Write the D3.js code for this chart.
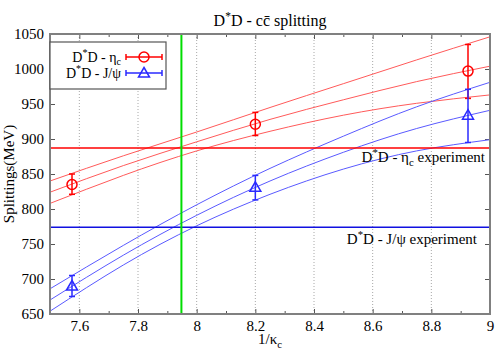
<!DOCTYPE html>
<html>
<head>
<meta charset="utf-8">
<script src="https://cdn.jsdelivr.net/npm/d3@7"></script>
<style>
  body { margin: 0; background: #fff; }
</style>
</head>
<body>
<div id="chart"></div>
<script>
// measured points (1/kappa_c, splitting in MeV)
const kappaInv = [7.575, 8.2, 8.925];
const etaC = [835, 921, 997];
const etaCLo = [821, 905, 958];
const etaCHi = [850, 938, 1035];
const jpsi = [690, 831, 934];
const jpsiLo = [675, 813, 895];
const jpsiHi = [705, 848, 971];

// fit bands
const bandX = [7.5, 7.75, 8.0, 8.25, 8.5, 8.75, 9.0];
const etaBandHi = [840, 876, 910, 945, 979, 1013, 1046];
const etaBandMid = [824, 862, 896, 928, 956, 982, 1004];
const etaBandLo = [808, 848, 883, 911, 934, 951, 963];
const jpsiBandHi = [686, 748, 806, 858, 904, 946, 981];
const jpsiBandMid = [670, 734, 791, 840, 881, 915, 941];
const jpsiBandLo = [654, 720, 776, 821, 857, 883, 899];

// reference lines
const expEta = 887;
const expJpsi = 774;
const kappaPhys = 7.948;

// ticks
const xMajor = [7.6, 7.8, 8.0, 8.2, 8.4, 8.6, 8.8, 9.0];
const xTickLabels = ["7.6", "7.8", "8", "8.2", "8.4", "8.6", "8.8", "9"];
const xMinor = [7.5, 7.7, 7.9, 8.1, 8.3, 8.5, 8.7, 8.9];
const yMajor = [650, 700, 750, 800, 850, 900, 950, 1000, 1050];

const width = 500, height = 350;
const margin = { top: 34, right: 10, bottom: 36, left: 50 };
const serif = "'Liberation Serif', 'DejaVu Serif', serif";

const svg = d3.select("#chart").append("svg")
  .attr("width", width)
  .attr("height", height)
  .style("font-family", serif);

const x = d3.scaleLinear().domain([7.5, 9]).range([margin.left, width - margin.right]);
const y = d3.scaleLinear().domain([650, 1050]).range([height - margin.bottom, margin.top]);

const red = "#ff0000", redBand = "#ff5a5a";
const blue = "#2a2aff", blueBand = "#5a5aff";
const fontSize = 15;

// dotted vertical grid
svg.append("g").selectAll("line")
  .data(xMajor.filter(d => d < 9))
  .enter().append("line")
  .attr("x1", d => x(d)).attr("x2", d => x(d))
  .attr("y1", y(650)).attr("y2", y(1050))
  .attr("stroke", "#a8a8a8")
  .attr("stroke-dasharray", "1,2");

// axes
function styleAxis(g) {
  g.attr("font-family", null).attr("font-size", null);
  g.select(".domain").remove();
  g.selectAll(".tick line").attr("stroke", "#555");
  g.selectAll(".tick text").attr("fill", "#000")
    .style("font-family", serif)
    .style("font-size", fontSize + "px");
}
svg.append("g")
  .attr("transform", `translate(0,${y(650)})`)
  .call(d3.axisBottom(x).tickValues(xMajor).tickSize(-5).tickPadding(6)
    .tickFormat((d, i) => xTickLabels[i]))
  .call(styleAxis);
svg.append("g")
  .attr("transform", `translate(0,${y(650)})`)
  .call(d3.axisBottom(x).tickValues(xMinor).tickSize(-3).tickFormat(""))
  .call(styleAxis);
svg.append("g")
  .attr("transform", `translate(0,${y(1050)})`)
  .call(d3.axisTop(x).tickValues(xMajor).tickSize(-5).tickFormat(""))
  .call(styleAxis);
svg.append("g")
  .attr("transform", `translate(0,${y(1050)})`)
  .call(d3.axisTop(x).tickValues(xMinor).tickSize(-3).tickFormat(""))
  .call(styleAxis);
svg.append("g")
  .attr("transform", `translate(${x(7.5)},0)`)
  .call(d3.axisLeft(y).tickValues(yMajor).tickSize(-5).tickPadding(6).tickFormat(d3.format("d")))
  .call(styleAxis);
svg.append("g")
  .attr("transform", `translate(${x(9)},0)`)
  .call(d3.axisRight(y).tickValues(yMajor).tickSize(-5).tickFormat(""))
  .call(styleAxis);

// band curves
const bandLine = d3.line()
  .x(d => x(d[0]))
  .y(d => y(d[1]))
  .curve(d3.curveNatural);
[[etaBandHi, redBand], [etaBandMid, redBand], [etaBandLo, redBand],
 [jpsiBandHi, blueBand], [jpsiBandMid, blueBand], [jpsiBandLo, blueBand]].forEach(([vals, col]) => {
  svg.append("path")
    .datum(bandX.map((k, i) => [k, vals[i]]))
    .attr("fill", "none")
    .attr("stroke", col)
    .attr("stroke-width", 1)
    .attr("d", bandLine);
});

// experiment lines
svg.append("line")
  .attr("x1", x(7.5)).attr("x2", x(9))
  .attr("y1", y(expEta)).attr("y2", y(expEta))
  .attr("stroke", red).attr("stroke-width", 1.5);
svg.append("line")
  .attr("x1", x(7.5)).attr("x2", x(9))
  .attr("y1", y(expJpsi)).attr("y2", y(expJpsi))
  .attr("stroke", "#1010e0").attr("stroke-width", 1.5);

// physical kappa
svg.append("line")
  .attr("x1", x(kappaPhys)).attr("x2", x(kappaPhys))
  .attr("y1", y(650)).attr("y2", y(1050))
  .attr("stroke", "#00dd00").attr("stroke-width", 2);

// error bars + markers
function drawSeries(vals, lo, hi, col, shape) {
  const g = svg.append("g").attr("stroke", col).attr("fill", "none").attr("stroke-width", 1.5);
  kappaInv.forEach((k, i) => {
    const cx = x(k);
    g.append("line").attr("x1", cx).attr("x2", cx).attr("y1", y(lo[i])).attr("y2", y(hi[i]));
    g.append("line").attr("x1", cx - 3).attr("x2", cx + 3).attr("y1", y(lo[i])).attr("y2", y(lo[i]));
    g.append("line").attr("x1", cx - 3).attr("x2", cx + 3).attr("y1", y(hi[i])).attr("y2", y(hi[i]));
    marker(g, shape, cx, y(vals[i]));
  });
}
function marker(g, shape, cx, cy) {
  if (shape === "circle") {
    g.append("circle").attr("cx", cx).attr("cy", cy).attr("r", 5);
  } else {
    g.append("path").attr("d", `M${cx},${cy - 5.5}L${cx + 5.5},${cy + 4}L${cx - 5.5},${cy + 4}Z`);
  }
}
drawSeries(etaC, etaCLo, etaCHi, red, "circle");
drawSeries(jpsi, jpsiLo, jpsiHi, blue, "triangle");

// border
svg.append("rect")
  .attr("x", x(7.5)).attr("y", y(1050))
  .attr("width", x(9) - x(7.5)).attr("height", y(650) - y(1050))
  .attr("fill", "none").attr("stroke", "#808080").attr("stroke-width", 2);

// rich text helper: parts = [text, "^sup", "_sub"]
function richText(g, px, py, parts, anchor, size) {
  const t = g.append("text")
    .attr("x", px).attr("y", py)
    .attr("text-anchor", anchor)
    .style("font-family", serif)
    .style("font-size", size + "px");
  let shift = 0;
  parts.forEach(p => {
    let target = 0, s = p, fs = size;
    if (p[0] === "^") { target = -0.4 * size; s = p.slice(1); fs = size * 0.72; }
    else if (p[0] === "_") { target = 0.28 * size; s = p.slice(1); fs = size * 0.72; }
    t.append("tspan").attr("dy", target - shift).style("font-size", fs + "px").text(s);
    shift = target;
  });
  return t;
}

// title and axis labels
richText(svg, 270, 26, ["D", "^*", "D - cc\u0304 splitting"], "middle", 16);
richText(svg, 270, 344, ["1/\u03ba", "_c"], "middle", fontSize);
svg.append("text")
  .attr("transform", `translate(14,${(y(650) + y(1050)) / 2}) rotate(-90)`)
  .attr("text-anchor", "middle")
  .style("font-family", serif)
  .style("font-size", fontSize + "px")
  .text("Splittings(MeV)");

// experiment labels
richText(svg, 485, 162, ["D", "^*", "D - \u03b7", "_c", " experiment"], "end", fontSize);
richText(svg, 477, 244, ["D", "^*", "D - J/\u03c8 experiment"], "end", fontSize);

// legend
const legend = svg.append("g");
legend.append("rect")
  .attr("x", x(7.5)).attr("y", 42)
  .attr("width", 116).attr("height", 47)
  .attr("fill", "#fff").attr("stroke", "#555").attr("stroke-width", 1.2);
const legendItems = [
  { parts: ["D", "^*", "D - \u03b7", "_c"], col: red, shape: "circle", cy: 57 },
  { parts: ["D", "^*", "D - J/\u03c8"], col: blue, shape: "triangle", cy: 73 }
];
legendItems.forEach(it => {
  richText(legend, 121, it.cy + 4.5, it.parts, "end", 14);
  const g = legend.append("g").attr("stroke", it.col).attr("fill", "none").attr("stroke-width", 1.5);
  g.append("line").attr("x1", 126).attr("x2", 162).attr("y1", it.cy).attr("y2", it.cy);
  g.append("line").attr("x1", 126).attr("x2", 126).attr("y1", it.cy - 3).attr("y2", it.cy + 3);
  g.append("line").attr("x1", 162).attr("x2", 162).attr("y1", it.cy - 3).attr("y2", it.cy + 3);
  marker(g, it.shape, 144, it.cy);
});
</script>
</body>
</html>
